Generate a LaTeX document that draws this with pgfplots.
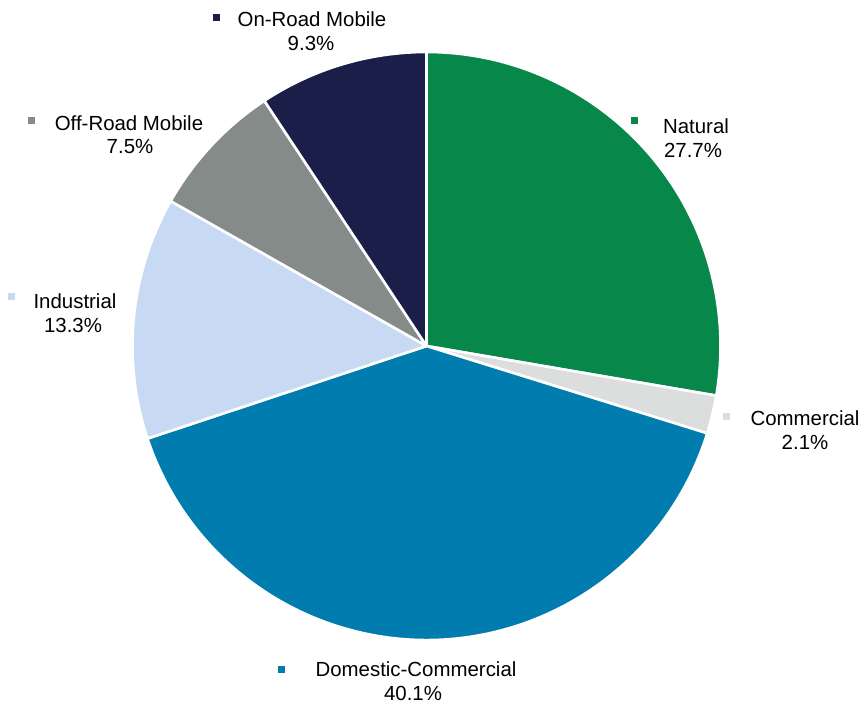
\documentclass[border=0pt]{standalone}
\usepackage{pgfplots}
\pgfplotsset{compat=1.18}
\usepackage{pgfplotstable}
\usepackage{fontspec}
\setmainfont{Liberation Sans}
\definecolor{cNat}{HTML}{07884A}
\definecolor{cCom}{HTML}{DCDEDE}
\definecolor{cDom}{HTML}{007CAE}
\definecolor{cInd}{HTML}{C8D9F3}
\definecolor{cOff}{HTML}{858B88}
\definecolor{cOn}{HTML}{1A1E49}
\pgfplotstableread{
name value color
Natural 27.7 cNat
Commercial 2.1 cCom
Domestic-Commercial 40.1 cDom
Industrial 13.3 cInd
Off-Road-Mobile 7.5 cOff
On-Road-Mobile 9.3 cOn
}\piedata
\begin{document}
\begin{tikzpicture}
\useasboundingbox (0,0) rectangle (867bp,709bp);
\begin{axis}[at={(0,0)}, anchor=south west, scale only axis, x=1bp, y=1bp,
  xmin=0, xmax=867, ymin=0, ymax=709, hide axis, clip=false]
\pgfplotstablegetrowsof{\piedata}
\pgfmathtruncatemacro\nrows{\pgfplotsretval-1}
\def\cum{0}
\pgfplotsforeachungrouped \i in {0,...,\nrows}{%
  \pgfplotstablegetelem{\i}{value}\of\piedata \let\val\pgfplotsretval
  \pgfplotstablegetelem{\i}{color}\of\piedata \let\col\pgfplotsretval
  \pgfmathsetmacro\sa{90-3.6*\cum}%
  \pgfmathsetmacro\ea{90-3.6*(\cum+\val)}%
  \edef\cmd{\noexpand\fill[fill=\col, draw=white, line width=2.6bp, line join=round] (axis cs:426.5,363) -- ++(\sa:294bp) arc[start angle=\sa, end angle=\ea, radius=294bp] -- cycle;}%
  \cmd
  \pgfmathsetmacro\cum{\cum+\val}%
}
% legend-like markers
\addplot[only marks, mark=square*, mark size=2.8bp, color=cOn] coordinates {(216,692)};
\addplot[only marks, mark=square*, mark size=2.8bp, color=cOff] coordinates {(31,589)};
\addplot[only marks, mark=square*, mark size=2.8bp, color=cNat] coordinates {(634,589)};
\addplot[only marks, mark=square*, mark size=2.8bp, color=cInd] coordinates {(11,413)};
\addplot[only marks, mark=square*, mark size=2.8bp, color=cCom] coordinates {(726,293)};
\addplot[only marks, mark=square*, mark size=2.8bp, color=cDom] coordinates {(281,40)};
\tikzset{lab/.style={anchor=base, inner sep=0pt, font=\fontsize{20.5}{24}\selectfont}}
\node[lab] at (axis cs:312,682) {On-Road Mobile};
\node[lab] at (axis cs:311,658) {9.3\%};
\node[lab] at (axis cs:129,578) {Off-Road Mobile};
\node[lab] at (axis cs:130,555) {7.5\%};
\node[lab] at (axis cs:696,575) {Natural};
\node[lab] at (axis cs:693,551) {27.7\%};
\node[lab] at (axis cs:75,400) {Industrial};
\node[lab] at (axis cs:73,376) {13.3\%};
\node[lab] at (axis cs:805,283) {Commercial};
\node[lab] at (axis cs:805,259) {2.1\%};
\node[lab] at (axis cs:416,32) {Domestic-Commercial};
\node[lab] at (axis cs:413,8) {40.1\%};
\end{axis}
\end{tikzpicture}
\end{document}
